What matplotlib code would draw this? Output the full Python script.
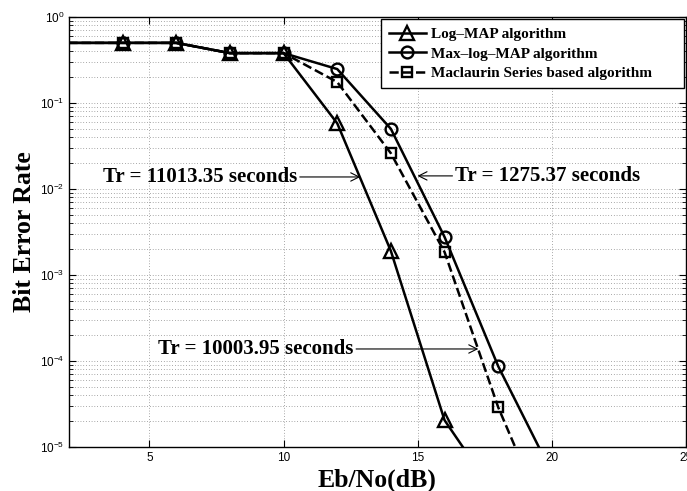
import numpy as np
import matplotlib
matplotlib.use('agg')
import matplotlib.pyplot as plt
from matplotlib.ticker import LogLocator, FixedLocator, NullLocator

## BER curves read per 2 dB step
snr = [0, 2, 4, 6, 8, 10, 12, 14, 16, 18, 20]
ber_log_map = [0.5, 0.5, 0.5, 0.5, 0.38, 0.38, 0.058, 0.0019, 2.05e-5, 2.5e-6, 3e-7]
ber_max_log_map = [0.5, 0.5, 0.5, 0.5, 0.38, 0.38, 0.248, 0.05, 2.77e-3, 8.7e-5, 5e-6]
ber_maclaurin = [0.5, 0.5, 0.5, 0.5, 0.38, 0.38, 0.175, 0.026, 1.85e-3, 2.9e-5, 1e-6]

labels = ['Log\u2013MAP algorithm', 'Max\u2013log\u2013MAP algorithm',
          'Maclaurin Series based algorithm']

## Run-time notes: (text, text x, text y, arrow x, arrow y, alignment)
notes = [('Tr = 11013.35 seconds', 10.5, 0.0138, 12.86, 0.0138, 'right'),
         ('Tr = 1275.37 seconds', 16.4, 0.0142, 14.99, 0.0142, 'left'),
         ('Tr = 10003.95 seconds', 12.6, 1.38e-4, 17.26, 1.38e-4, 'right')]

plt.rcParams['mathtext.fontset'] = 'custom'
plt.rcParams['mathtext.rm'] = 'Liberation Sans'
plt.rcParams['mathtext.it'] = 'Liberation Sans'
serif = 'Liberation Serif'

fig = plt.figure(figsize=(6.87, 4.91), dpi=100)
ax = fig.add_axes([0.1004, 0.0896, 0.8981, 0.8758])

marks = range(2, len(snr))
ax.plot(snr, ber_log_map, 'k-', lw=1.8, marker='^', ms=10, mfc='none', mew=1.7,
        markevery=marks, label=labels[0])
ax.plot(snr, ber_max_log_map, 'k-', lw=1.8, marker='o', ms=8.5, mfc='none', mew=1.7,
        markevery=marks, label=labels[1])
ax.plot(snr, ber_maclaurin, 'k--', lw=1.8, marker='s', ms=6.5, mfc='none', mew=1.7,
        markevery=marks, label=labels[2])

ax.set_yscale('log')
ax.set_xlim(2, 25)
ax.set_ylim(1e-5, 1)
ax.xaxis.set_major_locator(FixedLocator([5, 10, 15, 20, 25]))
ax.xaxis.set_minor_locator(NullLocator())
ax.yaxis.set_major_locator(LogLocator(base=10, numticks=10))
ax.yaxis.set_minor_locator(LogLocator(base=10, subs=np.arange(2, 10), numticks=10))

## dotted grid, major and minor
grid_style = dict(color='0.35', lw=0.5, linestyle=(0, (1, 3)))
ax.grid(True, which='major', **grid_style)
ax.grid(True, which='minor', axis='y', **grid_style)
ax.set_axisbelow(True)

ax.tick_params(which='both', direction='in', top=True, right=True)
ax.tick_params(which='major', length=5, width=0.8, labelsize=8.5)
ax.tick_params(which='minor', length=3, width=0.6)
for lbl in ax.get_xticklabels() + ax.get_yticklabels():
    lbl.set_fontfamily('Liberation Sans')
for sp in ax.spines.values():
    sp.set_linewidth(1.0)

ax.set_xlabel('Eb/No(dB)', family=serif, weight='bold', fontsize=18.5, labelpad=3.5)
ax.set_ylabel('Bit Error Rate', family=serif, weight='bold', fontsize=18.5)
ax.yaxis.set_label_coords(-0.053, 0.5)

for txt, tx, ty, axx, axy, ha in notes:
    ax.annotate(txt, xy=(axx, axy), xytext=(tx, ty), ha=ha, va='center',
                family=serif, weight='bold', fontsize=15,
                arrowprops=dict(arrowstyle='->', lw=0.8, color='k',
                                shrinkA=0, shrinkB=0))

# trailing spaces give the box the wider right margin
handles, _ = ax.get_legend_handles_labels()
leg = ax.legend(handles, [labels[0], labels[1], labels[2] + '      '],
                loc='upper right', prop=dict(family=serif, weight='bold', size=11),
                fancybox=False, edgecolor='k', framealpha=1, borderaxespad=0.15,
                handlelength=2.4, handletextpad=0.35, labelspacing=0.37,
                borderpad=0.55)
leg.get_frame().set_linewidth(1.0)

plt.savefig('out.png', dpi=100)
